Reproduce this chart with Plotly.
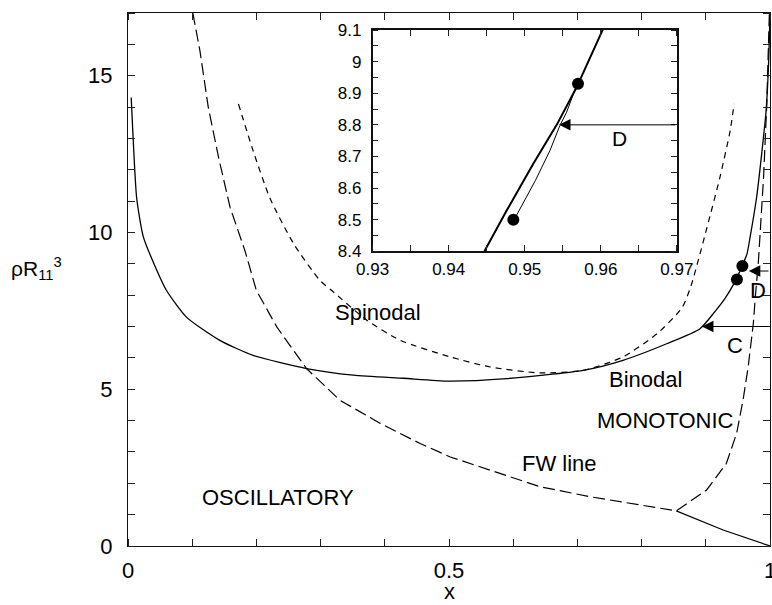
import plotly.graph_objects as go

# ---------------- data ----------------
binodal_x = [0.005, 0.008, 0.0135, 0.024, 0.045, 0.060, 0.091, 0.143, 0.195, 0.278,
             0.351, 0.429, 0.500, 0.590, 0.709, 0.771, 0.839, 0.891, 0.917, 0.930,
             0.9447, 0.9476, 0.9511, 0.9542, 0.9568, 0.9601, 0.964, 0.969, 0.979,
             0.987, 0.994, 0.998, 1.000]
binodal_y = [14.3, 13.0, 11.1, 9.85, 8.79, 8.15, 7.30, 6.56, 6.08, 5.66,
             5.45, 5.35, 5.26, 5.34, 5.60, 5.92, 6.45, 6.93, 7.55, 7.90,
             8.40, 8.528, 8.676, 8.80, 8.918, 9.10, 9.30, 9.85, 11.1,
             12.5, 13.9, 15.5, 17.0]

spinodal_x = [0.172, 0.195, 0.221, 0.258, 0.299, 0.320, 0.372, 0.424, 0.502, 0.564,
              0.642, 0.709, 0.771, 0.824, 0.863, 0.877, 0.902, 0.922, 0.938, 0.944]
spinodal_y = [14.1, 12.6, 11.1, 9.64, 8.47, 8.10, 7.20, 6.56, 6.03, 5.71,
              5.52, 5.60, 6.03, 6.77, 7.60, 8.30, 10.17, 11.76, 13.25, 14.1]

fw_x = [0.101, 0.112, 0.125, 0.141, 0.159, 0.182, 0.200, 0.232, 0.278, 0.330,
        0.393, 0.455, 0.502, 0.564, 0.642, 0.720, 0.798, 0.854,
        0.901, 0.932, 0.948, 0.958, 0.966, 0.974, 0.977, 0.982, 0.990, 0.995, 0.999]
fw_y = [17.0, 15.8, 14.0, 12.4, 10.8, 9.43, 8.15, 6.98, 5.66, 4.65,
        3.91, 3.27, 2.84, 2.42, 1.89, 1.57, 1.31, 1.12,
        1.78, 2.63, 3.59, 4.65, 5.71, 7.09, 7.90, 9.10, 11.76, 14.1, 17.0]

low_x = [0.854, 0.890, 0.927, 1.000]
low_y = [1.12, 0.81, 0.51, 0.00]

inner_x = [0.9486, 0.9489, 0.9514, 0.9533, 0.9546, 0.9555, 0.9569]
inner_y = [8.497, 8.513, 8.624, 8.718, 8.797, 8.840, 8.930]

dots_x = [0.9485, 0.957]
dots_y = [8.50, 8.93]

# tick labels, and positions of all tick marks
x_tick_vals = [0.0, 0.5, 1.0]
x_tick_text = ["0", "0.5", "1"]
x_mark_vals = [0.0, 0.1, 0.2, 0.3, 0.4, 0.5, 0.6, 0.7, 0.8, 0.9, 1.0]
y_tick_vals = [0, 5, 10, 15]
y_tick_text = ["0", "5", "10", "15"]
y_mark_vals = list(range(0, 18))

ix_tick_vals = [0.93, 0.94, 0.95, 0.96, 0.97]
ix_tick_text = ["0.93", "0.94", "0.95", "0.96", "0.97"]
ix_mark_vals = [0.93, 0.935, 0.94, 0.945, 0.95, 0.955, 0.96, 0.965, 0.97]
iy_tick_vals = [8.4, 8.5, 8.6, 8.7, 8.8, 8.9, 9.0, 9.1]
iy_tick_text = ["8.4", "8.5", "8.6", "8.7", "8.8", "8.9", "9", "9.1"]
iy_mark_vals = [8.4, 8.45, 8.5, 8.55, 8.6, 8.65, 8.7, 8.75, 8.8, 8.85, 8.9, 8.95, 9.0, 9.05, 9.1]

FONT = "Liberation Sans, Arial, Helvetica, sans-serif"

fig = go.Figure()

# ---------------- main panel ----------------
fig.add_trace(go.Scatter(x=binodal_x, y=binodal_y, mode="lines",
                         line=dict(color="black", width=1.3, shape="spline", smoothing=0.6),
                         xaxis="x", yaxis="y"))
fig.add_trace(go.Scatter(x=spinodal_x, y=spinodal_y, mode="lines",
                         line=dict(color="black", width=1.2, dash="6px,5px", shape="spline", smoothing=0.6),
                         xaxis="x", yaxis="y"))
fig.add_trace(go.Scatter(x=fw_x, y=fw_y, mode="lines",
                         line=dict(color="black", width=1.2, dash="12px,5px"), xaxis="x", yaxis="y"))
fig.add_trace(go.Scatter(x=low_x, y=low_y, mode="lines",
                         line=dict(color="black", width=1.2), xaxis="x", yaxis="y"))
fig.add_trace(go.Scatter(x=dots_x, y=dots_y, mode="markers",
                         marker=dict(color="black", size=12), xaxis="x", yaxis="y"))

# ---------------- inset ----------------
fig.add_trace(go.Scatter(x=binodal_x, y=binodal_y, mode="lines",
                         line=dict(color="black", width=2), xaxis="x2", yaxis="y2"))
fig.add_trace(go.Scatter(x=inner_x, y=inner_y, mode="lines",
                         line=dict(color="black", width=1), xaxis="x2", yaxis="y2"))
fig.add_trace(go.Scatter(x=dots_x, y=dots_y, mode="markers",
                         marker=dict(color="black", size=12), xaxis="x2", yaxis="y2"))

ann = []
def label(text, x, y, xref="x", yref="y", size=22):
    ann.append(dict(text=text, x=x, y=y, xref=xref, yref=yref, showarrow=False,
                    font=dict(size=size, color="black", family=FONT),
                    xanchor="center", yanchor="middle"))

label("Spinodal", 0.39, 7.45)
label("Binodal", 0.806, 5.32)
label("MONOTONIC", 0.837, 3.99)
label("FW line", 0.672, 2.63)
label("OSCILLATORY", 0.234, 1.55)
label("C", 0.946, 6.4)
label("D", 0.982, 8.15)
label("D", 0.9624, 8.757, xref="x2", yref="y2", size=21)

def arrow(x, y, ax, ay, xref="x", yref="y"):
    ann.append(dict(x=x, y=y, ax=ax, ay=ay, xref=xref, yref=yref,
                    axref=xref, ayref=yref, showarrow=True, text="",
                    arrowhead=2, arrowsize=2.3, arrowwidth=1, arrowcolor="black",
                    standoff=0, startstandoff=0))

arrow(0.894, 7.0, 1.0, 7.0)
arrow(0.967, 8.77, 1.0, 8.77)
arrow(0.9545, 8.8, 0.97, 8.8, xref="x2", yref="y2")

# axis titles
ann.append(dict(text="x", x=0.5, y=-0.0852, xref="paper", yref="paper", showarrow=False,
                font=dict(size=22, color="black", family=FONT), xanchor="center", yanchor="middle"))
ann.append(dict(text="ρR<sub>11</sub><sup>3</sup>", x=-0.142, y=0.52, xref="paper", yref="paper",
                showarrow=False, font=dict(size=21, color="black", family=FONT),
                xanchor="center", yanchor="middle"))

def axis_style(lw, tlen, fsize, mark_vals):
    # labels come from the major ticks; every tick mark is drawn as a minor tick
    return dict(showgrid=False, zeroline=False, showline=True, linecolor="#111111", linewidth=lw,
                mirror="allticks", ticks="", automargin=False, tickmode="array",
                layer="above traces",
                tickfont=dict(size=fsize, color="black", family=FONT),
                minor=dict(tickmode="array", tickvals=mark_vals, ticks="inside",
                           ticklen=tlen, tickcolor="#222222", tickwidth=1, showgrid=False))

fig.update_layout(
    template="none",
    width=772, height=605, autosize=False,
    margin=dict(l=128, r=2, t=13, b=59),
    paper_bgcolor="white", plot_bgcolor="rgba(0,0,0,0)",
    showlegend=False,
    font=dict(family=FONT, color="black"),
    xaxis=dict(axis_style(1.2, 7, 22, x_mark_vals), range=[0, 1],
               tickvals=x_tick_vals, ticktext=x_tick_text,
               ticklabelstandoff=4, ticklabeloverflow="allow", domain=[0, 1]),
    yaxis=dict(axis_style(1.2, 7, 22, y_mark_vals), range=[0, 17],
               tickvals=y_tick_vals, ticktext=y_tick_text,
               ticklabelstandoff=10, domain=[0, 1]),
    xaxis2=dict(axis_style(1.6, 6, 17, ix_mark_vals), range=[0.93, 0.97],
                tickvals=ix_tick_vals, ticktext=ix_tick_text,
                ticklabelstandoff=2, ticklabeloverflow="allow", domain=[0.381, 0.855], anchor="y2"),
    yaxis2=dict(axis_style(1.6, 6, 17, iy_mark_vals), range=[8.4, 9.1],
                tickvals=iy_tick_vals, ticktext=iy_tick_text,
                domain=[0.553, 0.968], anchor="x2", ticklabelstandoff=6),
    annotations=ann,
)

fig.write_html(
    "out.html",
    config={"responsive": False, "displayModeBar": False},
    post_script="document.body.style.margin='0';document.body.style.padding='0';"
                "document.body.style.overflow='hidden';",
)
